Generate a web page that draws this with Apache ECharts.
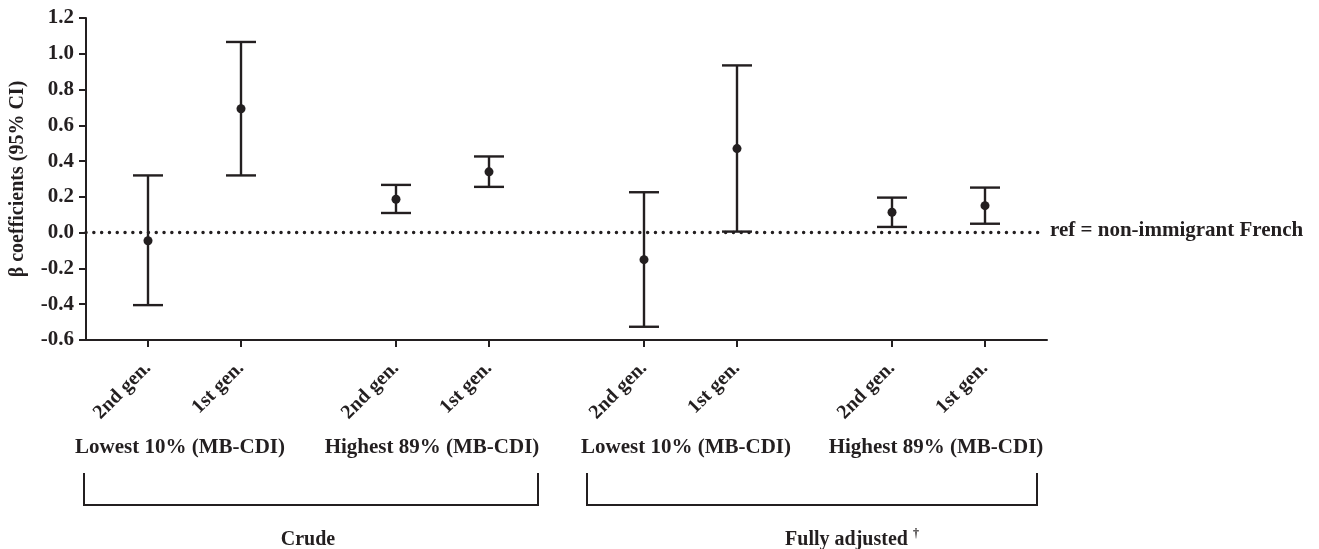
<!DOCTYPE html>
<html><head><meta charset="utf-8">
<script src="https://cdn.jsdelivr.net/npm/echarts@6/dist/echarts.min.js"></script>
<style>html,body{margin:0;padding:0;background:#fff}#c{width:1319px;height:549px}</style>
</head><body><div id="c"></div>
<script>
// x slots (blank = spacing between groups)
const categories = ['', '', '2nd gen.', '', '', '1st gen.', '', '', '', '', '2nd gen.', '', '', '1st gen.', '', '', '', '', '2nd gen.', '', '', '1st gen.', '', '', '', '', '2nd gen.', '', '', '1st gen.', '', ''];
const estimates = [-0.045, 0.693, 0.187, 0.340, -0.151, 0.470, 0.114, 0.151];
const lowerCI   = [-0.405, 0.320, 0.110, 0.256, -0.526, 0.006, 0.032, 0.050];
const upperCI   = [ 0.320, 1.066, 0.267, 0.426,  0.226, 0.935, 0.196, 0.252];
const yTicks = [-0.6, 1.2, 0.2];

const ink = '#231f20';
const font = '"Liberation Serif", "Times New Roman", serif';
const slotIdx = categories.map((c, i) => c ? i : -1).filter(i => i >= 0);
const barData = slotIdx.map((s, k) => [s, lowerCI[k], upperCI[k], estimates[k]]);
const F = (s) => 'bold ' + s + 'px ' + font;

const chart = echarts.init(document.getElementById('c'));
chart.setOption({
  animation: false,
  grid: { left: 85, right: 272, top: 18, bottom: 209, containLabel: false },
  xAxis: {
    type: 'category', data: categories, boundaryGap: false,
    axisLine: { onZero: false, lineStyle: { color: ink, width: 2 } },
    axisTick: { length: 7, lineStyle: { color: ink, width: 2 }, interval: (i, v) => v !== '' },
    axisLabel: { interval: (i, v) => v !== '', rotate: 45, margin: 25, color: ink,
      fontFamily: font, fontWeight: 'bold', fontSize: 20 },
    splitLine: { show: false }
  },
  yAxis: {
    type: 'value', min: yTicks[0], max: yTicks[1], interval: yTicks[2],
    name: 'β coefficients (95% CI)', nameLocation: 'middle', nameGap: 58,
    nameTextStyle: { color: ink, fontFamily: font, fontWeight: 'bold', fontSize: 20 },
    axisLine: { show: true, lineStyle: { color: ink, width: 2 } },
    axisTick: { show: true, length: 7, lineStyle: { color: ink, width: 2 } },
    axisLabel: { color: ink, fontFamily: font, fontWeight: 'bold', fontSize: 21, margin: 12,
      formatter: v => v.toFixed(1) },
    splitLine: { show: false }
  },
  series: [{
    type: 'custom',
    data: barData,
    encode: { x: 0, y: [1, 2, 3] },
    renderItem: (params, api) => {
      const x = api.coord([api.value(0), 0])[0];
      const lo = api.coord([api.value(0), api.value(1)])[1];
      const hi = api.coord([api.value(0), api.value(2)])[1];
      const est = api.coord([api.value(0), api.value(3)])[1];
      const hw = 15;
      const st = { stroke: ink, lineWidth: 2.4 };
      return { type: 'group', children: [
        { type: 'line', shape: { x1: x, y1: hi, x2: x, y2: lo }, style: st },
        { type: 'line', shape: { x1: x - hw, y1: hi, x2: x + hw, y2: hi }, style: st },
        { type: 'line', shape: { x1: x - hw, y1: lo, x2: x + hw, y2: lo }, style: st },
        { type: 'circle', shape: { cx: x, cy: est, r: 4.5 }, style: { fill: ink } }
      ]};
    },
    markLine: {
      silent: true, symbol: 'none',
      lineStyle: { color: ink, width: 3.4, type: [0.1, 7.7], cap: 'round' },
      label: { show: false },
      data: [[{ coord: [0, 0] }, { x: 1041, yAxis: 0 }]]
    },
    z: 3
  }],
  graphic: [
    { type: 'text', left: 1050, top: 220, style: { text: 'ref = non-immigrant French', fill: ink, font: F(21) } },
    { type: 'text', x: 180, y: 448, style: { text: 'Lowest 10% (MB-CDI)', fill: ink, font: F(21), align: 'center', verticalAlign: 'middle' } },
    { type: 'text', x: 432, y: 448, style: { text: 'Highest 89% (MB-CDI)', fill: ink, font: F(21), align: 'center', verticalAlign: 'middle' } },
    { type: 'text', x: 686, y: 448, style: { text: 'Lowest 10% (MB-CDI)', fill: ink, font: F(21), align: 'center', verticalAlign: 'middle' } },
    { type: 'text', x: 936, y: 448, style: { text: 'Highest 89% (MB-CDI)', fill: ink, font: F(21), align: 'center', verticalAlign: 'middle' } },
    { type: 'polyline', shape: { points: [[84, 473], [84, 505], [538, 505], [538, 473]] }, style: { stroke: ink, lineWidth: 2, fill: null } },
    { type: 'polyline', shape: { points: [[587, 473], [587, 505], [1037, 505], [1037, 473]] }, style: { stroke: ink, lineWidth: 2, fill: null } },
    { type: 'text', x: 308, y: 540, style: { text: 'Crude', fill: ink, font: F(20), align: 'center', verticalAlign: 'middle' } },
    { type: 'text', x: 852, y: 540, style: { text: 'Fully adjusted {s|†}', fill: ink, font: F(20), align: 'center', verticalAlign: 'middle',
      rich: { s: { fontSize: 12, fontFamily: font, fontWeight: 'bold', verticalAlign: 'top', padding: [0, 0, 12, 0], fill: ink } } } }
  ]
});
</script></body></html>
